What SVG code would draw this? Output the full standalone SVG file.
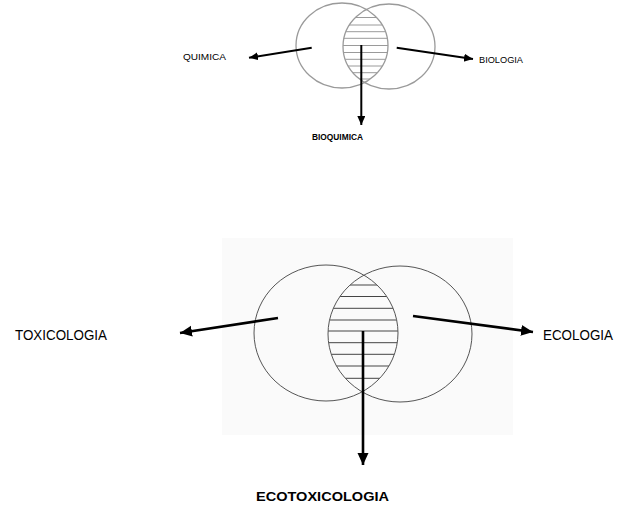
<svg xmlns="http://www.w3.org/2000/svg" width="619" height="506" viewBox="0 0 619 506">
<style>
.circ-top{fill:none;stroke:#9a9a9a;stroke-width:1.3}
.circ-bot{fill:none;stroke:#555;stroke-width:1}
.hatch-top{stroke:#9a9a9a;stroke-width:1}
.hatch-bot{stroke:#444;stroke-width:1}
.arr-top{stroke:#000;stroke-width:2;fill:none;marker-end:url(#headS)}
.arr-bot{stroke:#000;stroke-width:2.6;fill:none;marker-end:url(#headL)}
.lbl{font-family:"Liberation Sans",Arial,sans-serif;fill:#000}
.b{font-weight:bold}
</style>
<defs>
<marker id="headS" markerUnits="userSpaceOnUse" markerWidth="10" markerHeight="9" refX="9" refY="4" orient="auto">
<path d="M0,0 L9,4 L0,8 z" fill="#000"/>
</marker>
<marker id="headL" markerUnits="userSpaceOnUse" markerWidth="14" markerHeight="12" refX="12" refY="5.5" orient="auto">
<path d="M0,0 L12,5.5 L0,11 z" fill="#000"/>
</marker>
<clipPath id="clipTL"><ellipse cx="342" cy="45.5" rx="46" ry="42.5"/></clipPath>
<clipPath id="clipTR"><ellipse cx="389" cy="46.5" rx="46" ry="42.5"/></clipPath>
<clipPath id="clipBL"><ellipse cx="326" cy="333" rx="72" ry="68"/></clipPath>
<clipPath id="clipBR"><ellipse cx="400" cy="334" rx="72" ry="68"/></clipPath>
</defs>

<!-- top diagram -->
<g id="bioquimica-lens">
<g clip-path="url(#clipTL)"><g clip-path="url(#clipTR)" class="hatch-top">
<line x1="330" y1="17.5" x2="400" y2="17.5"/>
<line x1="330" y1="25" x2="400" y2="25"/>
<line x1="330" y1="31.7" x2="400" y2="31.7"/>
<line x1="330" y1="38.3" x2="400" y2="38.3"/>
<line x1="330" y1="45.5" x2="400" y2="45.5"/>
<line x1="330" y1="52.5" x2="400" y2="52.5"/>
<line x1="330" y1="59.3" x2="400" y2="59.3"/>
<line x1="330" y1="66" x2="400" y2="66"/>
<line x1="330" y1="72.7" x2="400" y2="72.7"/>
<line x1="330" y1="79" x2="400" y2="79"/>
</g></g>
</g>
<g id="quimica-circle"><ellipse class="circ-top" cx="342" cy="45.5" rx="46" ry="42.5"/></g>
<g id="biologia-circle"><ellipse class="circ-top" cx="389" cy="46.5" rx="46" ry="42.5"/></g>

<!-- bottom diagram -->
<rect x="222" y="238" width="291" height="197" fill="#fafafa"/>
<g id="ecotox-lens">
<g clip-path="url(#clipBL)"><g clip-path="url(#clipBR)" class="hatch-bot">
<line x1="320" y1="285" x2="410" y2="285"/>
<line x1="320" y1="296.5" x2="410" y2="296.5"/>
<line x1="320" y1="308.3" x2="410" y2="308.3"/>
<line x1="320" y1="320" x2="410" y2="320"/>
<line x1="320" y1="331" x2="410" y2="331"/>
<line x1="320" y1="342.7" x2="410" y2="342.7"/>
<line x1="320" y1="354.3" x2="410" y2="354.3"/>
<line x1="320" y1="366" x2="410" y2="366"/>
<line x1="320" y1="378.3" x2="410" y2="378.3"/>
</g></g>
</g>
<g id="toxicologia-circle"><ellipse class="circ-bot" cx="326" cy="333" rx="72" ry="68"/></g>
<g id="ecologia-circle"><ellipse class="circ-bot" cx="400" cy="334" rx="72" ry="68"/></g>

<g id="connectors">
<line class="arr-top" x1="311.7" y1="47.7" x2="249" y2="57.7"/>
<line class="arr-top" x1="396.7" y1="47.7" x2="473" y2="59"/>
<line class="arr-top" x1="361.3" y1="45" x2="361.3" y2="125"/>
<line class="arr-bot" x1="278" y1="318" x2="180" y2="333"/>
<line class="arr-bot" x1="413" y1="316" x2="533" y2="332"/>
<line class="arr-bot" x1="363" y1="331" x2="363" y2="465"/>
</g>

<g id="labels">
<text class="lbl" x="183" y="60" font-size="8.5" textLength="43" lengthAdjust="spacingAndGlyphs">QUIMICA</text>
<text class="lbl" x="479" y="62.7" font-size="8.5" textLength="44" lengthAdjust="spacingAndGlyphs">BIOLOGIA</text>
<text class="lbl b" x="312" y="140" font-size="9" textLength="51" lengthAdjust="spacingAndGlyphs">BIOQUIMICA</text>
<text class="lbl" x="15" y="340" font-size="14" textLength="92" lengthAdjust="spacingAndGlyphs">TOXICOLOGIA</text>
<text class="lbl" x="543" y="340" font-size="14" textLength="70" lengthAdjust="spacingAndGlyphs">ECOLOGIA</text>
<text class="lbl b" x="256" y="501" font-size="13.5" textLength="133" lengthAdjust="spacingAndGlyphs">ECOTOXICOLOGIA</text>
</g>
</svg>
